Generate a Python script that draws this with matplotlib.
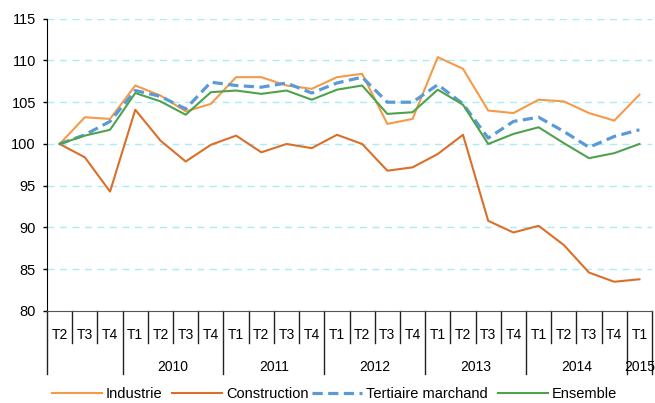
import numpy as np
import matplotlib
matplotlib.use('Agg')
import matplotlib.pyplot as plt
import matplotlib.transforms as mtransforms

plt.rcParams['font.family'] = ['Liberation Sans', 'DejaVu Sans']

quarters = ['T2', 'T3', 'T4'] + ['T1', 'T2', 'T3', 'T4'] * 5 + ['T1']
years = ['2010', '2011', '2012', '2013', '2014', '2015']

industrie = [100, 103.2, 103.0, 107.0, 105.8, 103.9, 104.8, 108.0,
             108.0, 107.0, 106.6, 108.0, 108.4, 102.4, 103.0, 110.4,
             109.0, 104.0, 103.7, 105.3, 105.1, 103.7, 102.8, 105.9]
construction = [100, 98.4, 94.3, 104.1, 100.4, 97.9, 99.9, 101.0,
                99.0, 100.0, 99.5, 101.1, 100.0, 96.8, 97.2, 98.8,
                101.1, 90.8, 89.4, 90.2, 87.9, 84.6, 83.5, 83.8]
tertiaire = [100, 101.1, 102.7, 106.4, 105.7, 104.2, 107.4, 107.0,
             106.8, 107.3, 106.1, 107.3, 108.0, 105.0, 105.0, 107.1,
             104.8, 100.7, 102.7, 103.2, 101.5, 99.6, 100.9, 101.7]
ensemble = [100, 101.0, 101.7, 106.1, 105.1, 103.5, 106.2, 106.4,
            106.0, 106.4, 105.3, 106.5, 107.0, 103.6, 103.8, 106.5,
            104.7, 100.0, 101.2, 102.0, 100.1, 98.3, 98.9, 100.0]

x = np.arange(len(quarters))

fig = plt.figure(figsize=(6.55, 4.03), dpi=100)
ax = fig.add_axes([0.0718, 0.2283, 0.9237, 0.7253])

l1, = ax.plot(x, industrie, color='#F59A48', lw=1.5, label='Industrie')
l2, = ax.plot(x, construction, color='#DA6F2A', lw=1.5, label='Construction')
l3, = ax.plot(x, tertiaire, color='#5B9BD5', lw=2.3, dashes=(3.2, 1.7), label='Tertiaire marchand')
l4, = ax.plot(x, ensemble, color='#4EA24E', lw=1.5, label='Ensemble')

ax.set_xlim(-0.5, len(quarters) - 0.5)
ax.set_ylim(80, 115)
ax.set_yticks(np.arange(80, 116, 5))
for v in np.arange(85, 116, 5):
    ax.axhline(v, color='#A8ECF8', lw=1, dashes=(5, 4), zorder=0)

for s in ['top', 'right']:
    ax.spines[s].set_visible(False)
ax.spines['left'].set_color('black')
ax.spines['bottom'].set_color('#555555')
ax.tick_params(axis='y', length=3, width=1, pad=5, labelsize=10.5)
ax.set_xticks([])

# category axis: quarters and years
trans = mtransforms.blended_transform_factory(ax.transData, ax.transAxes)
long_b = [0, 3, 7, 11, 15, 19, 23, 24]
for b in range(len(quarters) + 1):
    bottom = -0.216 if b in long_b else -0.109
    ax.plot([b - 0.5, b - 0.5], [0, bottom], color='#222222', lw=1,
            transform=trans, clip_on=False)
for i, q in enumerate(quarters):
    ax.text(i, -0.082, q, transform=trans, ha='center', va='center', fontsize=10)
year_pos = [4.5, 8.5, 12.5, 16.5, 20.5, 23]
for p, yr in zip(year_pos, years):
    ax.text(p, -0.192, yr, transform=trans, ha='center', va='center', fontsize=10)

# legend entries placed one by one, like the spreadsheet layout
leg_x = [52, 172, 312, 498]
for h, lx in zip([l1, l2, l3, l4], leg_x):
    lg = fig.legend([h], [h.get_label()], loc='center left',
                    bbox_to_anchor=(lx / 655, 0.022), frameon=False,
                    fontsize=10.5, handlelength=3.4, handletextpad=0.3,
                    borderpad=0, borderaxespad=0)

fig.savefig('out.png', dpi=100)
